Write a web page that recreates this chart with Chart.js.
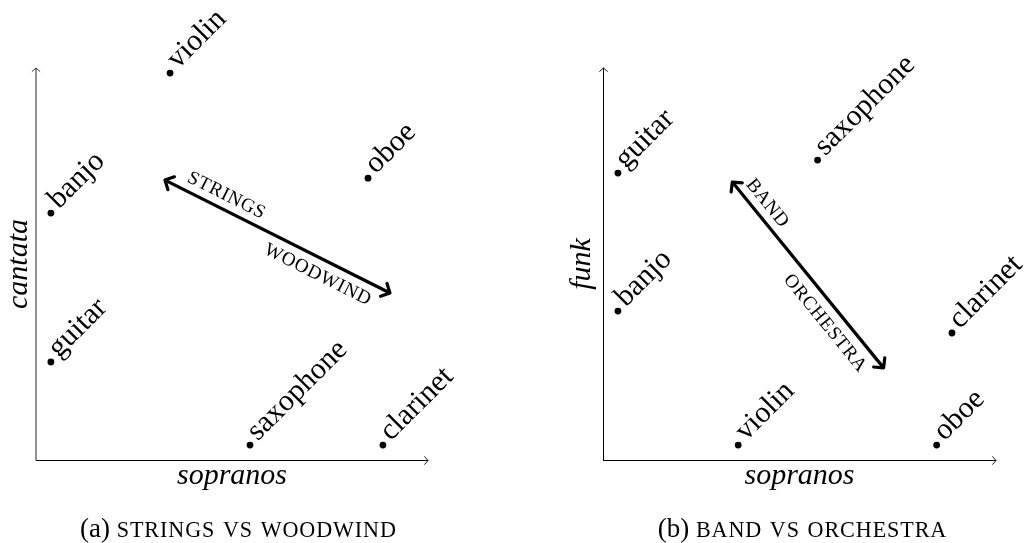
<!DOCTYPE html>
<html><head><meta charset="utf-8">
<script src="https://cdn.jsdelivr.net/npm/chart.js@4.4.0/dist/chart.umd.min.js"></script>
<style>
html,body{margin:0;padding:0;background:#fff;width:1027px;height:543px;overflow:hidden}
canvas{position:absolute;top:0}
#ca{left:0}
#cb{left:513px}
</style></head><body>
<canvas id="ca" width="513" height="543"></canvas>
<canvas id="cb" width="514" height="543"></canvas>
<script>
// ---------- Panel (a) ----------
const instrumentsA = ['violin', 'banjo', 'oboe', 'guitar', 'saxophone', 'clarinet'];
const sopranosA    = [3.42, 0.38, 8.47, 0.38, 5.46, 8.85];
const cantataA     = [9.87, 6.30, 7.19, 2.50, 0.38, 0.38];
const arrowXA      = [3.29, 9.03];
const arrowYA      = [7.14, 4.26];
const arrowLabelsA = ['strings', 'woodwind'];
const captionA     = ['(a)', 'strings vs woodwind'];
const axisTitlesA  = ['sopranos', 'cantata'];

// ---------- Panel (b) ----------
const instrumentsB = ['guitar', 'saxophone', 'banjo', 'clarinet', 'violin', 'oboe'];
const sopranosB    = [0.38, 5.46, 0.38, 8.88, 3.44, 8.49];
const funkB        = [7.32, 7.65, 3.80, 3.24, 0.38, 0.38];
const arrowXB      = [3.29, 7.14];
const arrowYB      = [7.09, 2.35];
const arrowLabelsB = ['band', 'orchestra'];
const captionB     = ['(b)', 'band vs orchestra'];
const axisTitlesB  = ['sopranos', 'funk'];

const axisRange = [0, 10];

const SERIF = '"Liberation Serif", "DejaVu Serif", serif';

function scRuns(ctx, text, size, ratio) {
  const runs = [];
  for (const ch of text) {
    const low = ch !== ch.toUpperCase();
    const f = (low ? (size * ratio).toFixed(2) : size) + 'px ' + SERIF;
    ctx.font = f;
    const c = low ? ch.toUpperCase() : ch;
    runs.push({c, f, w: ctx.measureText(c).width});
  }
  return runs;
}
function scWidth(ctx, text, size, ratio, spacing) {
  const r = scRuns(ctx, text, size, ratio);
  return r.reduce((s, q) => s + q.w, 0) + spacing * (r.length - 1);
}
function drawSC(ctx, text, x, y, size, ratio, spacing) {
  const r = scRuns(ctx, text, size, ratio);
  let cx = x;
  for (const q of r) { ctx.font = q.f; ctx.fillText(q.c, cx, y); cx += q.w + spacing; }
}
function head(ctx, tx, ty, ang, len, spread) {
  ctx.beginPath();
  ctx.moveTo(tx + len * Math.cos(ang + spread), ty + len * Math.sin(ang + spread));
  ctx.lineTo(tx, ty);
  ctx.lineTo(tx + len * Math.cos(ang - spread), ty + len * Math.sin(ang - spread));
  ctx.stroke();
}

const decorPlugin = {
  id: 'decor',
  afterDatasetsDraw(chart, args, o) {
    const ctx = chart.ctx;
    const a = chart.chartArea;
    ctx.save();
    ctx.fillStyle = '#000';
    ctx.strokeStyle = '#000';
    // axes
    ctx.lineWidth = 1;
    const yx = a.left + (o.crispY ? 0.5 : 0);
    const xy = a.bottom + 0.5;
    ctx.strokeStyle = o.crispY ? '#000' : '#222';
    ctx.beginPath(); ctx.moveTo(yx, a.bottom + 0.5); ctx.lineTo(yx, a.top); ctx.stroke();
    ctx.lineWidth = 0.9;
    head(ctx, yx, a.top, Math.PI / 2, 5.5, 0.85);
    ctx.strokeStyle = '#000';
    ctx.lineWidth = 1;
    ctx.beginPath(); ctx.moveTo(a.left, xy); ctx.lineTo(a.right, xy); ctx.stroke();
    ctx.lineWidth = 0.9;
    head(ctx, a.right, xy, Math.PI, 5.5, 0.85);

    // axis titles
    ctx.font = 'italic 30px ' + SERIF;
    ctx.textAlign = 'center';
    ctx.textBaseline = 'alphabetic';
    ctx.fillText(o.titles[0], (a.left + a.right) / 2, a.bottom + 24);
    ctx.save();
    ctx.translate(a.left - o.yTitleGap, (a.top + a.bottom) / 2);
    ctx.rotate(-Math.PI / 2);
    ctx.fillText(o.titles[1], 0, 0);
    ctx.restore();

    // point labels
    const pm = chart.getDatasetMeta(0);
    ctx.font = '30px ' + SERIF;
    ctx.textAlign = 'left';
    pm.data.forEach((el, i) => {
      ctx.save();
      ctx.translate(el.x, el.y);
      ctx.rotate(-Math.PI / 4);
      ctx.fillText(o.names[i], 8, 3);
      ctx.restore();
    });

    // arrow heads & labels
    const am = chart.getDatasetMeta(1);
    const p0 = am.data[0], p1 = am.data[1];
    const ang = Math.atan2(p1.y - p0.y, p1.x - p0.x);
    const L = Math.hypot(p1.x - p0.x, p1.y - p0.y);
    ctx.lineWidth = 3.2;
    ctx.lineJoin = 'round';
    ctx.lineCap = 'round';
    head(ctx, p0.x, p0.y, ang, 10, 0.8);
    head(ctx, p1.x, p1.y, ang + Math.PI, 10, 0.8);
    const ux = Math.cos(ang), uy = Math.sin(ang);
    const nx = Math.sin(ang), ny = -Math.cos(ang);
    const sz = 24, ratio = 0.8, sp = 0.7;
    const place = o.labelPlace;
    o.arrowLabels.forEach((t, i) => {
      const cx = p0.x + ux * place[i][0] * L + nx * place[i][1];
      const cy = p0.y + uy * place[i][0] * L + ny * place[i][1];
      const w = scWidth(ctx, t, sz, ratio, sp);
      ctx.save();
      ctx.translate(cx, cy);
      ctx.rotate(ang);
      ctx.textAlign = 'left';
      drawSC(ctx, t, -w / 2, 0.66 * sz * ratio / 2, sz, ratio, sp);
      ctx.restore();
    });

    // caption
    const csz = 27, cr = 0.82, csp = 0.9;
    ctx.font = csz + 'px ' + SERIF;
    ctx.textAlign = 'left';
    const pre = o.caption[0] + ' ';
    const pw = ctx.measureText(pre).width;
    const sw = scWidth(ctx, o.caption[1], csz, cr, csp);
    const sx = o.captionX - (pw + sw) / 2;
    ctx.font = csz + 'px ' + SERIF;
    ctx.fillText(pre, sx, 537);
    drawSC(ctx, o.caption[1], sx + pw, 537, csz, cr, csp);
    ctx.restore();
  }
};

function makeChart(id, names, xs, ys, ax, ay, decor, pad) {
  const pts = xs.map((x, i) => ({x: x, y: ys[i]}));
  const arr = ax.map((x, i) => ({x: x, y: ay[i]}));
  return new Chart(document.getElementById(id), {
    type: 'scatter',
    data: {datasets: [
      {label: 'instruments', data: pts, pointRadius: 3.4, pointHoverRadius: 3.4,
       backgroundColor: '#000', borderColor: '#000', borderWidth: 0, showLine: false},
      {label: 'direction', data: arr, showLine: true, borderColor: '#000', borderWidth: 3.2,
       pointRadius: 0, fill: false, borderCapStyle: 'butt'}
    ]},
    options: {
      responsive: false, animation: false, events: [],
      layout: {padding: pad},
      clip: false,
      scales: {
        x: {type: 'linear', min: axisRange[0], max: axisRange[1], display: false},
        y: {type: 'linear', min: axisRange[0], max: axisRange[1], display: false}
      },
      plugins: {legend: {display: false}, tooltip: {enabled: false}, title: {display: false},
        decor: Object.assign({names: names}, decor)}
    },
    plugins: [decorPlugin]
  });
}

makeChart('ca', instrumentsA, sopranosA, cantataA, arrowXA, arrowYA,
  {arrowLabels: arrowLabelsA, caption: captionA, titles: axisTitlesA, captionX: 238, yTitleGap: 9, crispY: false,
   labelPlace: [[0.245, 15], [0.71, -15]]},
  {left: 36, right: 85, top: 68, bottom: 83});
makeChart('cb', instrumentsB, sopranosB, funkB, arrowXB, arrowYB,
  {arrowLabels: arrowLabelsB, caption: captionB, titles: axisTitlesB, captionX: 289, yTitleGap: 13, crispY: true,
   labelPlace: [[0.16, 15], [0.70, -16]]},
  {left: 90, right: 31, top: 68, bottom: 83});
</script>
</body></html>
